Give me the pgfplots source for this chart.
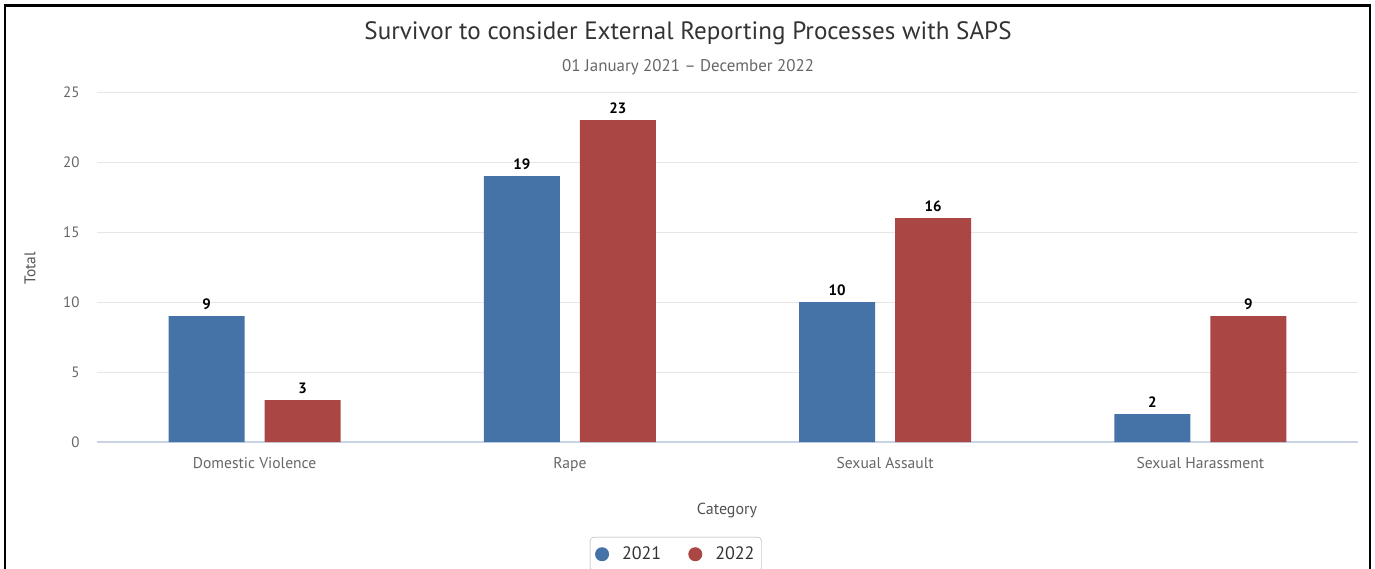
\documentclass[border=0pt]{standalone}
\usepackage{fontspec}
\setmainfont{PT Sans}
\usepackage{pgfplots}
\pgfplotsset{compat=1.18}

\definecolor{s2021}{HTML}{4572A7}
\definecolor{s2022}{HTML}{AA4643}
\definecolor{gridc}{HTML}{E6E6E6}
\definecolor{axisc}{HTML}{C8D4E6}
\definecolor{tickc}{HTML}{666666}
\definecolor{titlec}{HTML}{333333}

\begin{document}
\begin{tikzpicture}
% page area in pt, one pt per pixel, y running downwards
\path[use as bounding box] (0pt,0pt) rectangle (1375pt,-568pt);
\draw[line width=2.5pt] (5pt,-575pt) -- (5pt,-5.5pt) -- (1370pt,-5.5pt) -- (1370pt,-575pt);

\node[font=\fontsize{25.1}{29}\selectfont, text=titlec] at (688pt,-33pt)
  {Survivor to consider External Reporting Processes with SAPS};
\node[font=\fontsize{16.9}{20}\selectfont, text=tickc] at (688pt,-67pt)
  {01 January 2021 -- December 2022};

\begin{axis}[
  at={(97pt,-442pt)}, anchor=south west,
  scale only axis, width=1261pt, height=350pt,
  xmin=-0.5, xmax=3.5, ymin=0, ymax=25,
  ybar=20pt, bar width=76pt,
  axis x line*=bottom, axis y line*=left,
  x axis line style={draw=axisc, line width=1.2pt},
  y axis line style={draw=none},
  major tick length=0pt,
  ytick={0,5,...,25},
  ymajorgrids, grid style={draw=gridc, line width=1pt},
  xtick=data,
  xticklabels={Domestic Violence, Rape, Sexual Assault, Sexual Harassment},
  /pgf/number format/assume math mode=true,
  yticklabel style={font=\fontsize{15}{18}\selectfont, text=tickc, xshift=-14pt},
  xticklabel style={font=\fontsize{15.6}{18}\selectfont, text=tickc, yshift=-12pt},
  nodes near coords,
  every node near coord/.append style={font=\bfseries\fontsize{15}{18}\selectfont, text=black, yshift=3pt},
  legend columns=2,
  legend style={at={(0.459,-0.271)}, anchor=north, draw=gray!70, rounded corners=4pt,
    font=\fontsize{18}{21}\selectfont, text=titlec,
    inner xsep=5pt, inner ysep=8pt,
    /tikz/every even column/.append style={column sep=25pt}},
]
\addplot[fill=s2021, draw=none,
  legend image code/.code={\fill[s2021] (4pt,0pt) circle (7pt); \path (22pt,0pt);}]
  coordinates {(0,9) (1,19) (2,10) (3,2)};
\addplot[fill=s2022, draw=none,
  legend image code/.code={\fill[s2022] (4pt,0pt) circle (7pt); \path (22pt,0pt);}]
  coordinates {(0,3) (1,23) (2,16) (3,9)};
\legend{2021, 2022}
\end{axis}

\node[font=\fontsize{16}{19}\selectfont, text=titlec!85!white] at (727pt,-510pt) {Category};
\node[font=\fontsize{15.5}{18}\selectfont, text=titlec!85!white, rotate=90] at (30pt,-268pt) {Total};
\end{tikzpicture}
\end{document}
